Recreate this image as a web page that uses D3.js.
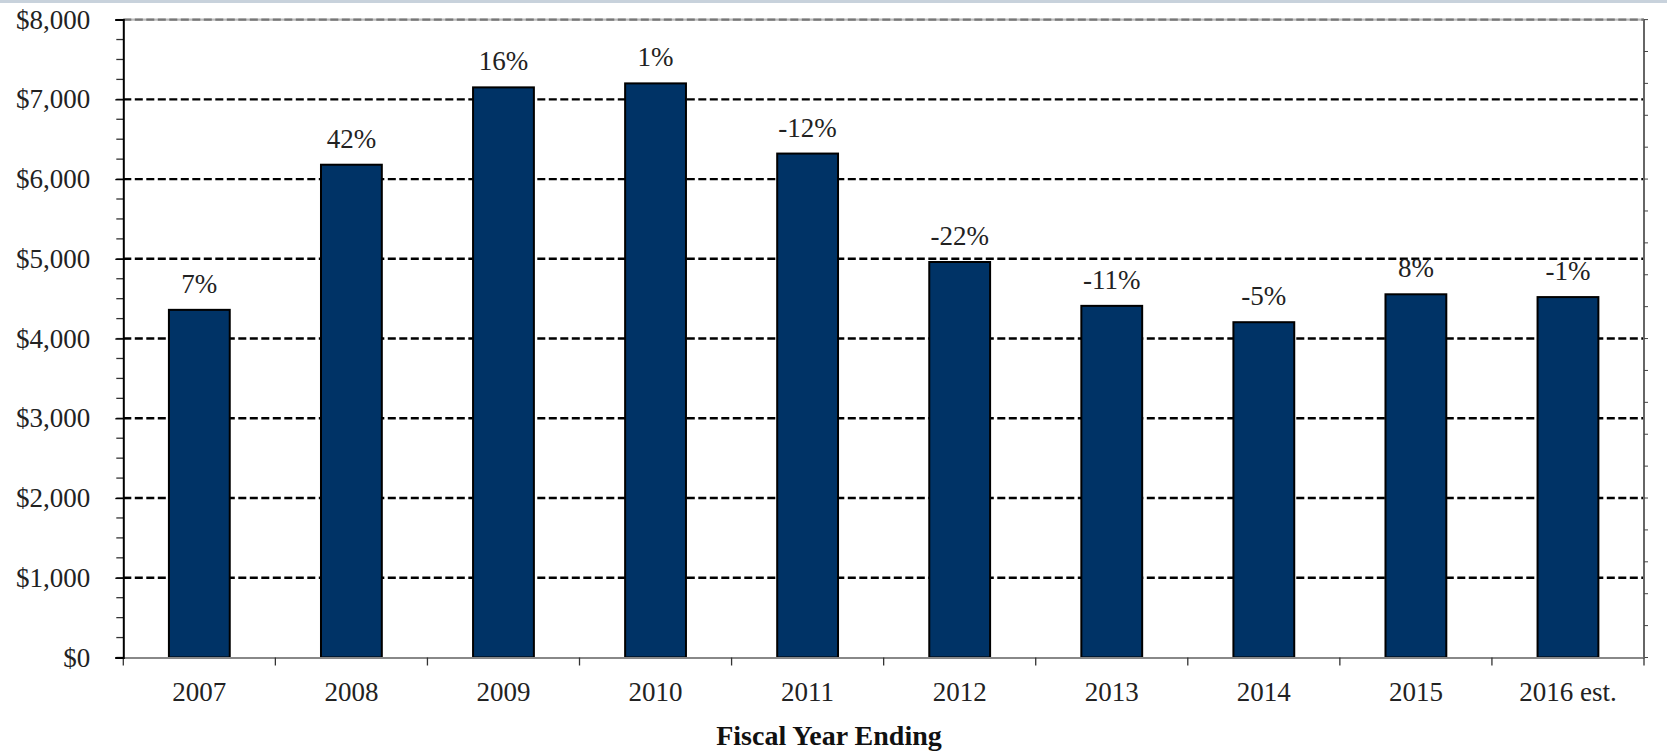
<!DOCTYPE html>
<html>
<head>
<meta charset="utf-8">
<script src="https://cdn.jsdelivr.net/npm/d3@7"></script>
<style>
	body { margin: 0; background: #fff; }
	svg { display: block; }
	text { font-family: "Liberation Serif", serif; }
</style>
</head>
<body>
<div id="chart"></div>
<script>
//chart values
var years = ["2007", "2008", "2009", "2010", "2011", "2012", "2013", "2014", "2015", "2016 est."];
var amounts = [4360, 6180, 7150, 7200, 6320, 4960, 4410, 4205, 4555, 4520];
var changeLabels = ["7%", "42%", "16%", "1%", "-12%", "-22%", "-11%", "-5%", "8%", "-1%"];
var yTicks = [0, 1000, 2000, 3000, 4000, 5000, 6000, 7000, 8000];
var axisTitle = "Fiscal Year Ending";

//d3 important values
window.w = 1667;
window.h = 751;
let plotLeft = 123.3, plotRight = 1644, plotTop = 19.6, plotBottom = 657.5;
let serif = "Liberation Serif, serif";

const chart = d3.select("#chart")
	.append("svg")
	.attr("width", w)
	.attr("height", h);

//thin band along the top edge
chart.append("rect")
	.attr("x", 0).attr("y", 0)
	.attr("width", w).attr("height", 3)
	.attr("fill", "#c8d2dc");

var xScale = d3.scaleBand()
	.domain(years)
	.range([plotLeft, plotRight])
	.paddingInner(0.6)
	.paddingOuter(0.3);

var yScale = d3.scaleLinear()
	.domain([0, 8000])
	.range([plotBottom, plotTop]);

//gridlines
chart.append("g")
	.selectAll("line")
	.data(yTicks.filter(function(d) { return d > 0 && d < 8000; }))
	.join("line")
	.attr("x1", plotLeft).attr("x2", plotRight)
	.attr("y1", function(d) { return yScale(d); })
	.attr("y2", function(d) { return yScale(d); })
	.attr("stroke", "#000")
	.attr("stroke-width", 2.4)
	.attr("stroke-dasharray", "8,3.5");

//top edge of plot area
chart.append("line")
	.attr("x1", plotLeft).attr("x2", plotRight)
	.attr("y1", yScale(8000)).attr("y2", yScale(8000))
	.attr("stroke", "#bbb")
	.attr("stroke-width", 2.4);
chart.append("line")
	.attr("x1", plotLeft).attr("x2", plotRight)
	.attr("y1", yScale(8000)).attr("y2", yScale(8000))
	.attr("stroke", "#777")
	.attr("stroke-width", 2.4)
	.attr("stroke-dasharray", "8,3.5");

//right edge with its small ticks
chart.append("line")
	.attr("x1", plotRight).attr("x2", plotRight)
	.attr("y1", yScale(8000)).attr("y2", yScale(0))
	.attr("stroke", "#666")
	.attr("stroke-width", 2);
chart.append("g")
	.selectAll("line")
	.data(d3.range(0, 8001, 400))
	.join("line")
	.attr("x1", plotRight).attr("x2", plotRight + 4)
	.attr("y1", function(d) { return yScale(d); })
	.attr("y2", function(d) { return yScale(d); })
	.attr("stroke", "#444")
	.attr("stroke-width", 1);

//bars
chart.append("g")
	.selectAll("rect")
	.data(amounts)
	.join("rect")
	.attr("x", function(d, i) { return xScale(years[i]); })
	.attr("y", function(d) { return yScale(d); })
	.attr("width", xScale.bandwidth())
	.attr("height", function(d) { return yScale(0) - yScale(d); })
	.attr("fill", "#003366")
	.attr("stroke", "#000")
	.attr("stroke-width", 2);

//percent change labels
chart.append("g")
	.selectAll("text")
	.data(amounts)
	.join("text")
	.attr("x", function(d, i) { return xScale(years[i]) + xScale.bandwidth() / 2; })
	.attr("y", function(d) { return yScale(d) - 17; })
	.attr("text-anchor", "middle")
	.attr("font-family", serif)
	.attr("font-size", 27)
	.attr("fill", "#222")
	.text(function(d, i) { return changeLabels[i]; });

//x axis baseline and category dividers
var xAxis = d3.axisBottom()
	.scale(xScale)
	.tickSize(0)
	.tickPadding(24);

var gx = chart.append("g")
	.attr("transform", "translate(0," + plotBottom + ")")
	.call(xAxis)
	.attr("font-family", serif)
	.attr("font-size", 27);
gx.select(".domain").attr("stroke", "#888").attr("stroke-width", 2);
gx.selectAll("text").attr("fill", "#222");

chart.append("g")
	.selectAll("line")
	.data(d3.range(0, years.length + 1))
	.join("line")
	.attr("x1", function(i) { return plotLeft + i * xScale.step(); })
	.attr("x2", function(i) { return plotLeft + i * xScale.step(); })
	.attr("y1", plotBottom)
	.attr("y2", plotBottom + 8)
	.attr("stroke", "#333")
	.attr("stroke-width", 1.3);

//y axis with minor ticks
chart.append("g")
	.selectAll("line")
	.data(d3.range(0, 8001, 250))
	.join("line")
	.attr("x1", plotLeft - 7).attr("x2", plotLeft)
	.attr("y1", function(d) { return yScale(d); })
	.attr("y2", function(d) { return yScale(d); })
	.attr("stroke", "#333")
	.attr("stroke-width", 1.3);

var yAxis = d3.axisLeft()
	.scale(yScale)
	.tickValues(yTicks)
	.tickFormat(d3.format("$,"))
	.tickSize(8)
	.tickPadding(25);

var gy = chart.append("g")
	.attr("transform", "translate(" + plotLeft + ",0)")
	.call(yAxis)
	.attr("font-family", serif)
	.attr("font-size", 27);
gy.select(".domain").attr("stroke", "#000").attr("stroke-width", 2);
gy.selectAll(".tick line").attr("stroke", "#000").attr("stroke-width", 1.3);
gy.selectAll("text").attr("fill", "#222");

//axis title
chart.append("text")
	.attr("x", 829)
	.attr("y", 745)
	.attr("text-anchor", "middle")
	.attr("font-family", serif)
	.attr("font-size", 28)
	.attr("font-weight", "bold")
	.attr("fill", "#111")
	.text(axisTitle);
</script>
</body>
</html>
